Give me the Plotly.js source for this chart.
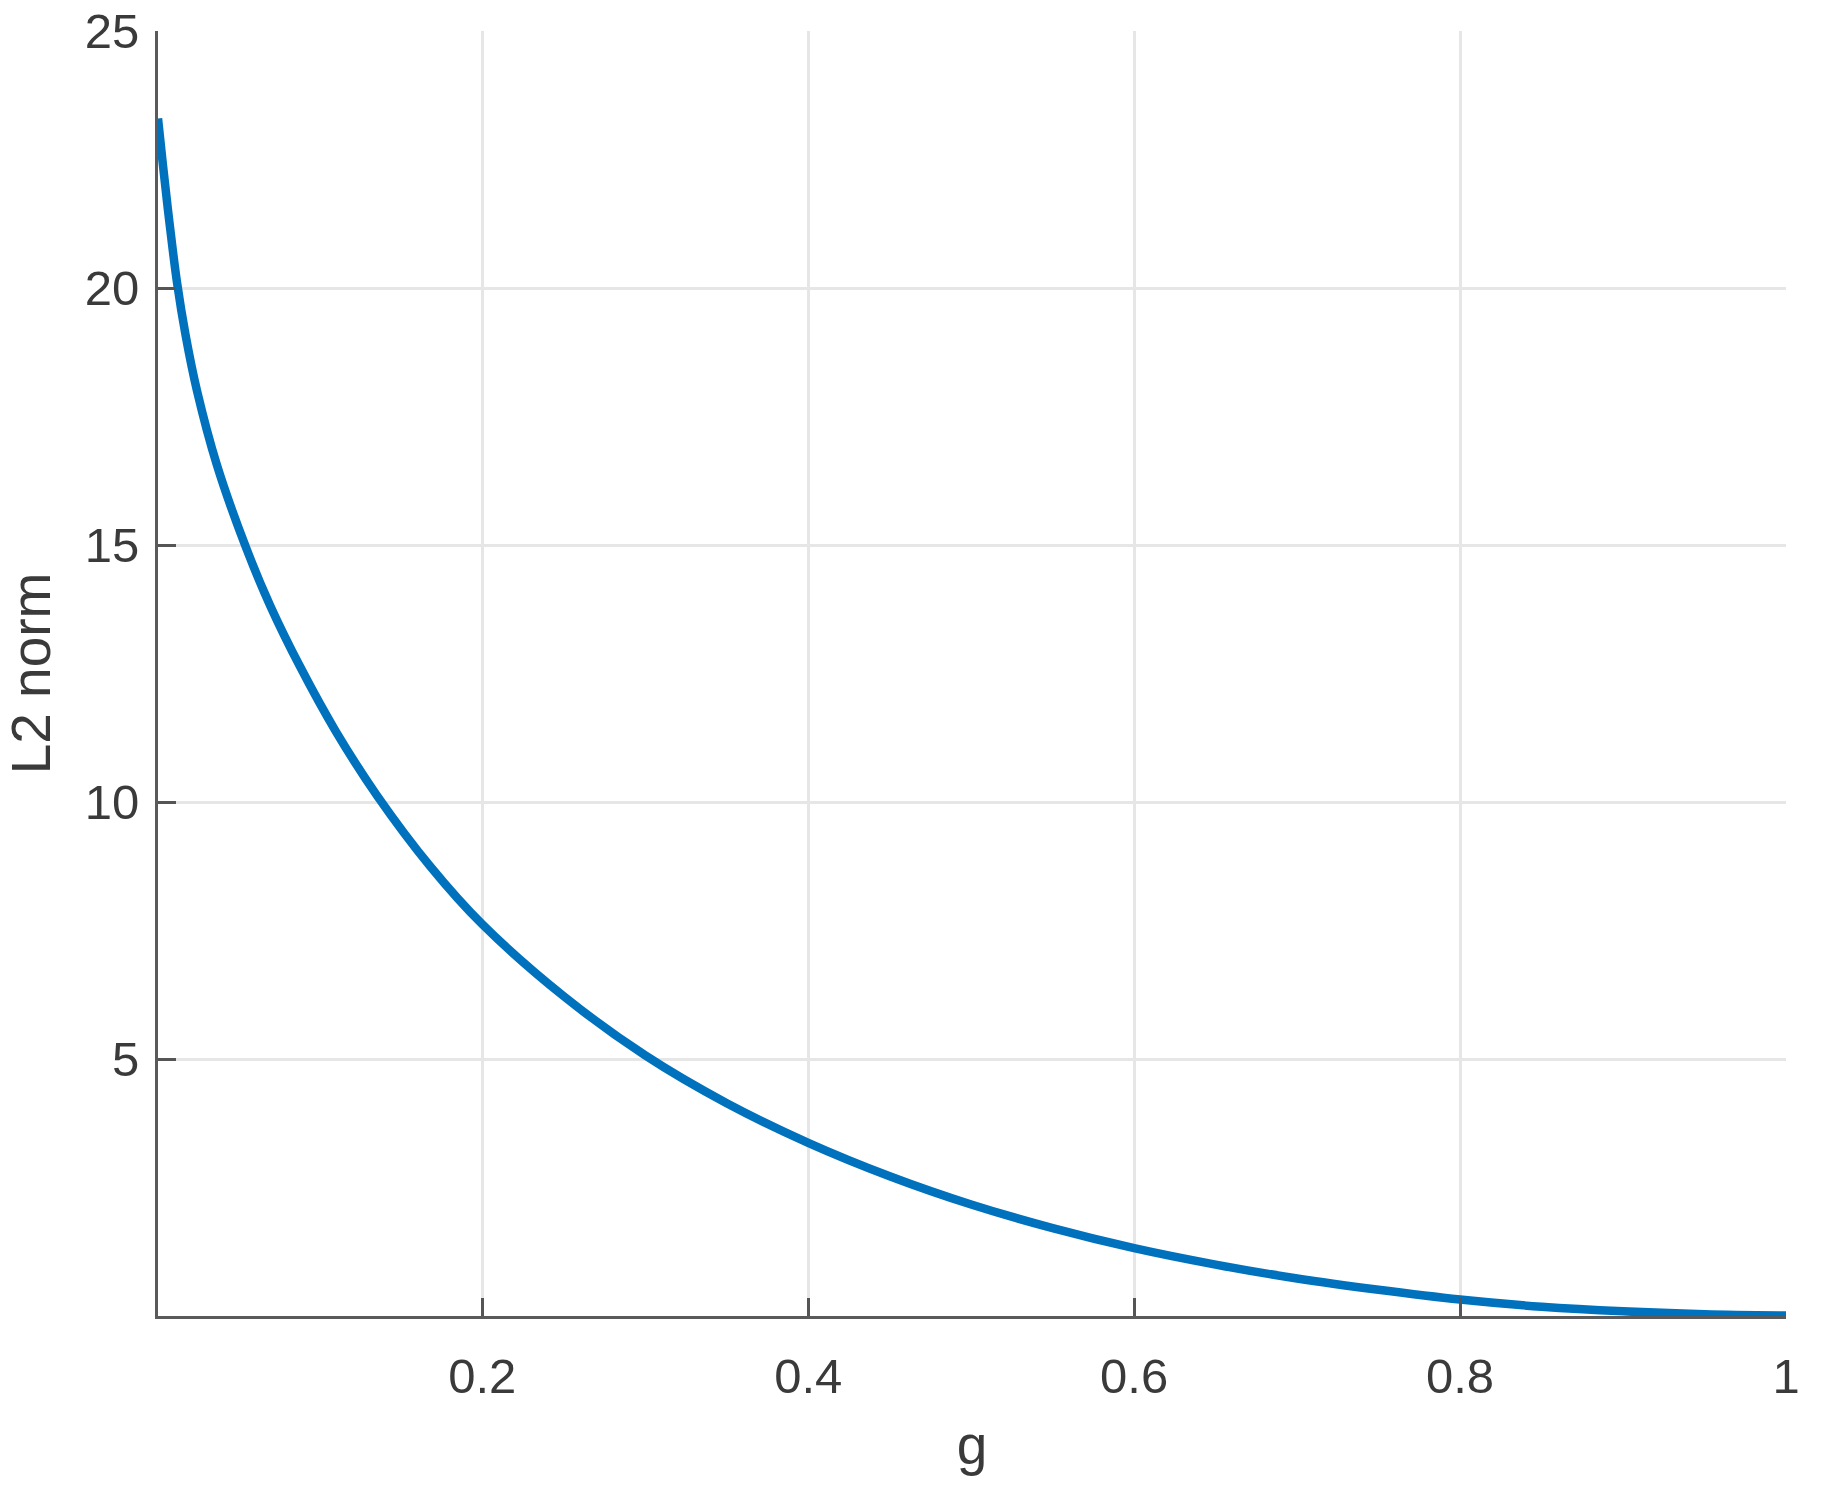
<!DOCTYPE html>
<html>
<head>
<meta charset="utf-8">
<script src="https://cdn.plot.ly/plotly-3.0.1.min.js"></script>
<style>
  html, body { margin: 0; padding: 0; background: #ffffff; }
  #chart { width: 1821px; height: 1495px; }
</style>
</head>
<body>
<div id="chart"></div>
<script>
// Values
const gValues = [0.001, 0.004, 0.008, 0.0127, 0.018, 0.025, 0.037, 0.055, 0.07, 0.0884, 0.11, 0.1355, 0.168, 0.2, 0.25, 0.3, 0.35, 0.4, 0.45, 0.5, 0.55, 0.6, 0.65, 0.7, 0.75, 0.8, 0.85, 0.9, 0.95, 1.0];
const l2Norm = [23.3, 22.4, 21.28, 20.1, 19.07, 17.99, 16.57, 14.95, 13.81, 12.62, 11.38, 10.12, 8.75, 7.62, 6.22, 5.07, 4.14, 3.37, 2.72, 2.17, 1.71, 1.32, 1.0, 0.73, 0.51, 0.32, 0.18, 0.09, 0.035, 0.01];
const xTickVals = [0.2, 0.4, 0.6, 0.8, 1];
const xTickText = ['0.2', '0.4', '0.6', '0.8', '1'];
const yTickVals = [5, 10, 15, 20, 25];
const yTickText = ['5', '10', '15', '20', '25'];
const xLabel = 'g';
const yLabel = 'L2 norm';

const fontFamily = '"Liberation Sans", Arial, Helvetica, sans-serif';

const trace = {
  x: gValues,
  y: l2Norm,
  type: 'scatter',
  mode: 'lines',
  line: { color: '#0072BD', width: 8.5, shape: 'spline', smoothing: 1 },
  hoverinfo: 'x+y',
  showlegend: false,
  cliponaxis: false
};

const layout = {
  width: 1821,
  height: 1495,
  paper_bgcolor: '#ffffff',
  plot_bgcolor: '#ffffff',
  margin: { l: 158, r: 35, t: 31, b: 179, pad: 0 },
  font: { family: fontFamily, color: '#3a3a3a', size: 49 },
  xaxis: {
    range: [0.001, 1],
    tickvals: xTickVals,
    ticktext: xTickText,
    ticks: 'inside',
    ticklen: 18,
    tickwidth: 3,
    tickcolor: '#555555',
    showline: true,
    linecolor: '#5a5a5a',
    linewidth: 3,
    showgrid: true,
    gridcolor: '#e6e6e6',
    gridwidth: 3,
    zeroline: false,
    mirror: false,
    tickfont: { family: fontFamily, size: 49, color: '#3a3a3a' },
    ticklabelstandoff: 15,
    title: { text: xLabel, font: { family: fontFamily, size: 55, color: '#3a3a3a' }, standoff: 24 },
    automargin: false
  },
  yaxis: {
    range: [0, 25],
    tickvals: yTickVals,
    ticktext: yTickText,
    ticks: 'inside',
    ticklen: 18,
    tickwidth: 3,
    tickcolor: '#555555',
    showline: true,
    linecolor: '#5a5a5a',
    linewidth: 3,
    showgrid: true,
    gridcolor: '#e6e6e6',
    gridwidth: 3,
    zeroline: false,
    mirror: false,
    tickfont: { family: fontFamily, size: 49, color: '#3a3a3a' },
    ticklabelstandoff: 6,
    title: { text: yLabel, font: { family: fontFamily, size: 55, color: '#3a3a3a' }, standoff: 19 },
    automargin: false
  }
};

Plotly.newPlot('chart', [trace], layout, { displayModeBar: false, staticPlot: false });
</script>
</body>
</html>
